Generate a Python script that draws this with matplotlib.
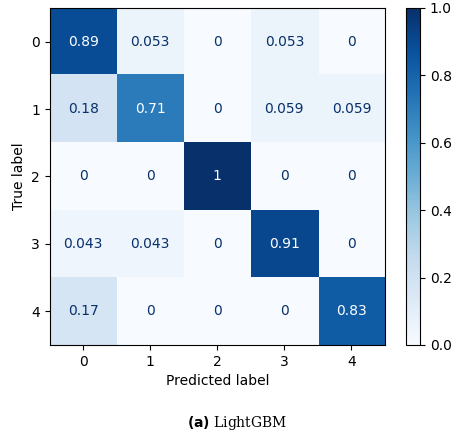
import matplotlib
matplotlib.use("Agg")
import matplotlib.pyplot as plt
import numpy as np

labels = ["0", "1", "2", "3", "4"]
values = [
    [0.89, 0.053, 0, 0.053, 0],
    [0.18, 0.71, 0, 0.059, 0.059],
    [0, 0, 1, 0, 0],
    [0.043, 0.043, 0, 0.91, 0],
    [0.17, 0, 0, 0, 0.83],
]
texts = [
    ["0.89", "0.053", "0", "0.053", "0"],
    ["0.18", "0.71", "0", "0.059", "0.059"],
    ["0", "0", "1", "0", "0"],
    ["0.043", "0.043", "0", "0.91", "0"],
    ["0.17", "0", "0", "0", "0.83"],
]

fig = plt.figure(figsize=(4.74, 4.4), dpi=100)
ax = fig.add_axes([0.105, 0.216, 0.707, 0.766])
cax = fig.add_axes([0.856, 0.216, 0.03, 0.766])
m = np.array(values)
im = ax.imshow(m, cmap="Blues", vmin=0, vmax=1, aspect="auto")
for i in range(5):
    for j in range(5):
        ax.text(j, i, texts[i][j], ha="center", va="center", fontsize=10,
                color="white" if m[i, j] > 0.5 else "#08306b")
ax.set_xticks(range(5), labels)
ax.set_yticks(range(5), labels)
ax.set_xlabel("Predicted label", fontsize=10)
ax.set_ylabel("True label", fontsize=10)
cb = fig.colorbar(im, cax=cax)
cb.set_ticks([0, 0.2, 0.4, 0.6, 0.8, 1.0])
fig.text(0.5, 0.03, r"$\mathbf{(a)}$ LightGBM", ha="center", fontsize=10, family="DejaVu Serif")
fig.savefig("out.png")
